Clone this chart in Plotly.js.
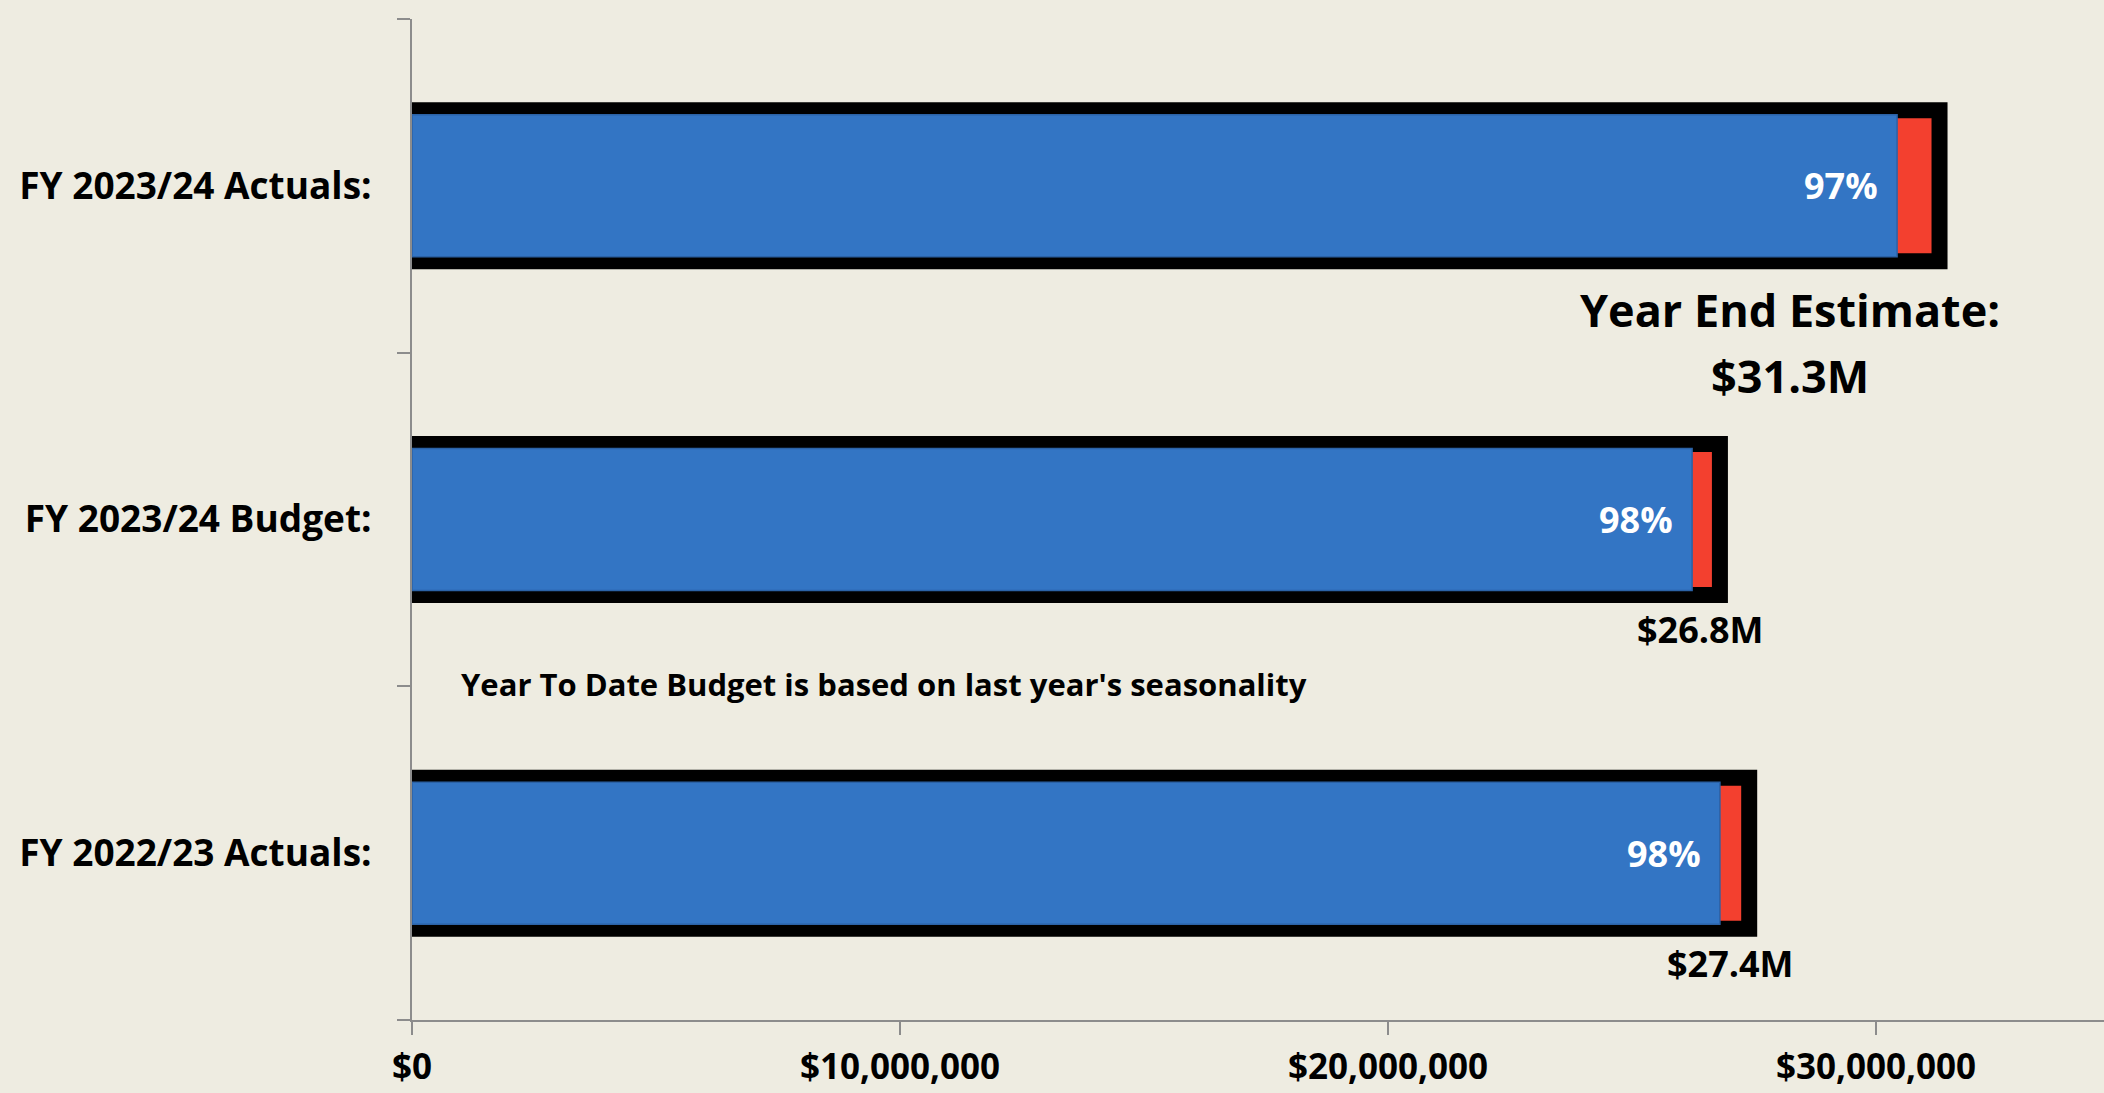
<!DOCTYPE html>
<html>
<head>
<meta charset="utf-8">
<script src="https://cdn.plot.ly/plotly-3.0.1.min.js"></script>
<style>html,body{margin:0;padding:0;background:#EEECE1;}</style>
</head>
<body>
<div id="chart" style="width:2104px;height:1093px;"></div>
<script>
// Categories listed bottom-to-top (Plotly draws the first category at the bottom)
const categories = ['FY 2022/23 Actuals:', 'FY 2023/24 Budget:', 'FY 2023/24 Actuals:'];
// Full-year totals (frame bar) and year-to-date values (blue bar), in dollars
const totalValues = [27400000, 26800000, 31300000];
const ytdValues = [26800000, 26230000, 30430000];
const pctLabels = ['98%', '98%', '97%'];
const totalLabels = ['$27.4M', '$26.8M', ''];
const estimateTitle = 'Year End Estimate:';
const estimateLabel = '$31.3M';
const noteText = "Year To Date Budget is based on last year's seasonality";
const xTickValues = [0, 10000000, 20000000, 30000000];
const xTickLabels = ['$0', '$10,000,000', '$20,000,000', '$30,000,000'];

const FONT = 'Open Sans, Noto Sans, sans-serif';

const frameTrace = {
  type: 'bar', orientation: 'h',
  x: totalValues, y: categories,
  width: 0.4527,
  marker: {color: '#F3402F', line: {color: '#000000', width: 16}},
  hoverinfo: 'skip', showlegend: false
};
const ytdTrace = {
  type: 'bar', orientation: 'h',
  x: ytdValues, y: categories,
  width: 0.4257,
  marker: {color: '#3375C4', line: {color: '#2B62A6', width: 1.5}},
  hoverinfo: 'skip', showlegend: false
};

const annotations = [];
categories.forEach((c, i) => {
  annotations.push({
    x: ytdValues[i], y: c, xref: 'x', yref: 'y',
    text: pctLabels[i], showarrow: false,
    xanchor: 'right', yanchor: 'middle', xshift: -17,
    font: {family: FONT, size: 36, color: '#FFFFFF', weight: 700}
  });
  if (totalLabels[i]) {
    annotations.push({
      x: totalValues[i], y: c, xref: 'x', yref: 'y',
      text: totalLabels[i], showarrow: false,
      xanchor: 'center', yanchor: 'middle', xshift: -19, yshift: -110,
      font: {family: FONT, size: 36, color: '#000000', weight: 700}
    });
  }
});
const topIdx = categories.length - 1;
annotations.push({
  x: totalValues[topIdx], y: categories[topIdx], xref: 'x', yref: 'y',
  text: estimateTitle, showarrow: false,
  xanchor: 'center', yanchor: 'middle', xshift: -150, yshift: -124,
  font: {family: FONT, size: 45, color: '#000000', weight: 700}
});
annotations.push({
  x: totalValues[topIdx], y: categories[topIdx], xref: 'x', yref: 'y',
  text: estimateLabel, showarrow: false,
  xanchor: 'center', yanchor: 'middle', xshift: -150, yshift: -190,
  font: {family: FONT, size: 45, color: '#000000', weight: 700}
});
annotations.push({
  x: 0, y: 0.5, xref: 'paper', yref: 'y',
  text: noteText, showarrow: false,
  xanchor: 'left', yanchor: 'middle', xshift: 47, yshift: 2,
  font: {family: FONT, size: 31, color: '#000000', weight: 700}
});

const layout = {
  width: 2104, height: 1093,
  paper_bgcolor: '#EEECE1', plot_bgcolor: '#EEECE1',
  margin: {l: 412, r: 0, t: 19, b: 73, pad: 0},
  barmode: 'overlay',
  showlegend: false,
  xaxis: {
    range: [0, 34670000],
    tickmode: 'array',
    tickvals: xTickValues,
    ticktext: xTickLabels,
    showgrid: false, zeroline: false,
    showline: true, linecolor: '#8C8C8C', linewidth: 2,
    ticks: 'outside', ticklen: 13, tickcolor: '#8C8C8C', tickwidth: 2,
    ticklabelstandoff: 2,
    tickfont: {family: FONT, size: 35, color: '#000000', weight: 700},
    fixedrange: true
  },
  yaxis: {
    type: 'category',
    range: [-0.5, 2.5],
    tickson: 'boundaries',
    showgrid: false, zeroline: false,
    showline: true, linecolor: '#8C8C8C', linewidth: 2,
    ticks: 'outside', ticklen: 13, tickcolor: '#8C8C8C', tickwidth: 2,
    ticklabelstandoff: 31,
    tickfont: {family: FONT, size: 37, color: '#000000', weight: 700},
    fixedrange: true
  },
  annotations: annotations
};

Plotly.newPlot('chart', [frameTrace, ytdTrace], layout, {displayModeBar: false, staticPlot: true});
</script>
</body>
</html>
